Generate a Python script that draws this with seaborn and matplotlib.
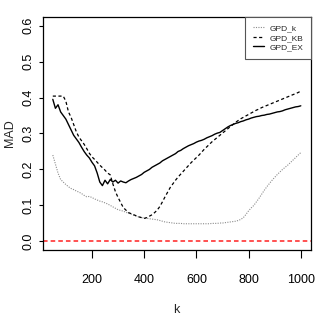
import numpy as np
import pandas as pd
import seaborn as sns
import matplotlib.pyplot as plt

# k values (every 10 from 50 to 1000)
k_values = list(range(50, 1001, 10))

gpd_k = [0.240, 0.215, 0.190, 0.172, 0.165, 0.158, 0.152, 0.147, 0.144, 0.140,
         0.137, 0.133, 0.128, 0.124, 0.125, 0.122, 0.118, 0.115, 0.112, 0.110,
         0.107, 0.104, 0.100, 0.096, 0.092, 0.088, 0.086, 0.084, 0.081, 0.078,
         0.076, 0.073, 0.070, 0.068, 0.066, 0.065, 0.064, 0.063, 0.062, 0.061,
         0.060, 0.058, 0.056, 0.054, 0.053, 0.052, 0.051, 0.050, 0.050, 0.050,
         0.049, 0.049, 0.049, 0.049, 0.049, 0.049, 0.049, 0.049, 0.049, 0.049,
         0.049, 0.050, 0.050, 0.050, 0.051, 0.051, 0.052, 0.053, 0.054, 0.055,
         0.056, 0.058, 0.061, 0.066, 0.075, 0.085, 0.093, 0.100, 0.110, 0.120,
         0.131, 0.142, 0.152, 0.161, 0.170, 0.178, 0.186, 0.193, 0.200, 0.206,
         0.212, 0.219, 0.226, 0.233, 0.240, 0.247]

gpd_kb = [0.404, 0.404, 0.404, 0.404, 0.404, 0.390, 0.360, 0.345, 0.325, 0.305,
          0.290, 0.280, 0.270, 0.258, 0.245, 0.235, 0.228, 0.220, 0.212, 0.205,
          0.198, 0.190, 0.185, 0.160, 0.138, 0.122, 0.108, 0.094, 0.087, 0.080,
          0.077, 0.074, 0.071, 0.068, 0.066, 0.064, 0.066, 0.070, 0.074, 0.080,
          0.087, 0.097, 0.110, 0.124, 0.137, 0.150, 0.160, 0.170, 0.179, 0.187,
          0.195, 0.203, 0.211, 0.219, 0.226, 0.233, 0.240, 0.248, 0.256, 0.263,
          0.270, 0.277, 0.283, 0.289, 0.295, 0.301, 0.307, 0.313, 0.319, 0.325,
          0.331, 0.336, 0.341, 0.345, 0.349, 0.353, 0.357, 0.361, 0.365, 0.368,
          0.372, 0.375, 0.378, 0.381, 0.384, 0.387, 0.390, 0.393, 0.396, 0.399,
          0.402, 0.405, 0.408, 0.411, 0.414, 0.418]

gpd_ex = [0.395, 0.370, 0.380, 0.360, 0.350, 0.340, 0.325, 0.310, 0.295, 0.285,
          0.275, 0.262, 0.250, 0.240, 0.232, 0.220, 0.210, 0.190, 0.165, 0.155,
          0.170, 0.160, 0.172, 0.165, 0.170, 0.162, 0.168, 0.165, 0.163, 0.168,
          0.172, 0.175, 0.178, 0.182, 0.186, 0.192, 0.196, 0.200, 0.206, 0.210,
          0.214, 0.218, 0.224, 0.228, 0.232, 0.236, 0.240, 0.244, 0.250, 0.253,
          0.258, 0.262, 0.266, 0.269, 0.272, 0.276, 0.279, 0.281, 0.284, 0.288,
          0.291, 0.294, 0.298, 0.301, 0.303, 0.308, 0.313, 0.318, 0.322, 0.325,
          0.328, 0.330, 0.333, 0.335, 0.338, 0.340, 0.343, 0.345, 0.347, 0.348,
          0.350, 0.351, 0.353, 0.354, 0.356, 0.358, 0.360, 0.361, 0.363, 0.366,
          0.368, 0.370, 0.372, 0.374, 0.375, 0.377]

x_ticks = [200, 400, 600, 800, 1000]
y_ticks = [0.0, 0.1, 0.2, 0.3, 0.4, 0.5, 0.6]

df = pd.DataFrame({"k": k_values, "GPD_k": gpd_k, "GPD_KB": gpd_kb, "GPD_EX": gpd_ex})

sns.set_style("ticks")
plt.rcParams['font.family'] = ['Liberation Sans Narrow', 'Liberation Sans', 'DejaVu Sans']

fig = plt.figure(figsize=(3.2, 3.27), dpi=100)
ax = fig.add_axes([0.134, 0.2355, 0.837, 0.7125])

sns.lineplot(data=df, x="k", y="GPD_k", ax=ax, color="#8c8c8c", lw=0.8,
             linestyle=(0, (1, 1.2)), label="GPD_k")
sns.lineplot(data=df, x="k", y="GPD_KB", ax=ax, color="black", lw=0.9,
             linestyle=(0, (2.5, 2)), label="GPD_KB")
sns.lineplot(data=df, x="k", y="GPD_EX", ax=ax, color="black", lw=1.0,
             linestyle="-", label="GPD_EX")
ax.axhline(0, color="#ff2020", lw=1.1, linestyle=(0, (3, 2)))

ax.set_xlim(12, 1038)
ax.set_ylim(-0.024, 0.624)
ax.set_xticks(x_ticks)
ax.set_yticks(y_ticks)
ax.set_xticklabels([str(t) for t in x_ticks], fontsize=9)
ax.set_yticklabels([f"{t:.1f}" for t in y_ticks], fontsize=9, rotation=90, va="center")
ax.tick_params(axis="x", length=6, width=0.8, pad=11.5, colors="black")
ax.tick_params(axis="y", length=3, width=0.8, pad=3, colors="black")
ax.set_xlabel("k", fontsize=9)
ax.set_ylabel("MAD", fontsize=9)
ax.xaxis.set_label_coords(0.5, -0.258)
ax.yaxis.set_label_coords(-0.123, 0.5)
ax.xaxis.label.set_va("center")
ax.yaxis.label.set_va("center")
for sp in ax.spines.values():
    sp.set_color("black")
    sp.set_linewidth(0.9)

leg = ax.legend(loc="upper right", bbox_to_anchor=(1.0, 1.0), borderaxespad=0,
                fontsize=6, handlelength=1.3, handletextpad=0.7,
                labelspacing=0.2, borderpad=0.9, fancybox=False, framealpha=1)
leg.get_frame().set_edgecolor("#555555")
leg.get_frame().set_linewidth(0.8)

fig.savefig("out.png", dpi=100)
